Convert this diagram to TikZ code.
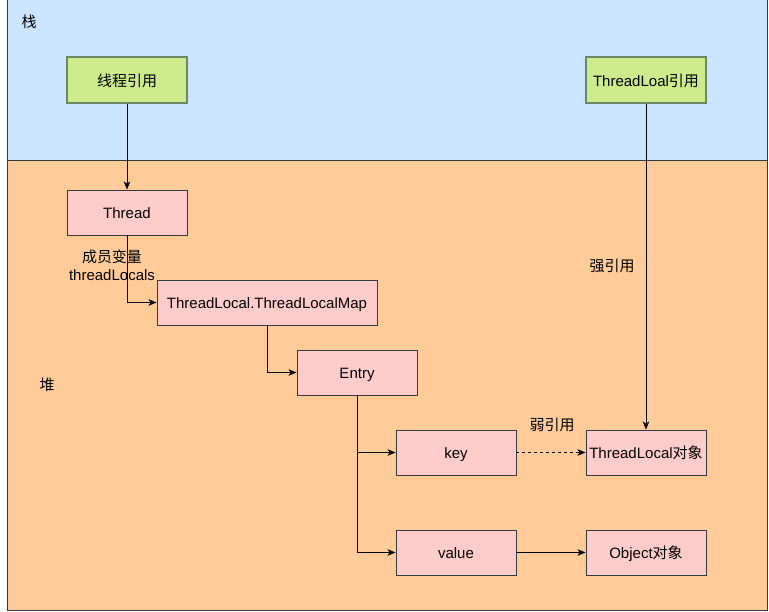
\documentclass[tikz,border=0pt]{standalone}
\usepackage{fontspec}
\setmainfont{Liberation Sans}
\newfontfamily\cjk{Noto Sans CJK SC}
\usetikzlibrary{arrows.meta}
\definecolor{stackfill}{HTML}{CCE5FF}
\definecolor{heapfill}{HTML}{FFCC99}
\definecolor{darkline}{HTML}{36393D}
\definecolor{greenfill}{HTML}{CDEB8B}
\definecolor{greenline}{HTML}{6D8764}
\definecolor{pinkfill}{HTML}{FFCCCC}
\begin{document}
\begin{tikzpicture}[x=1pt,y=-1pt,
  region/.style={draw=darkline,line width=0.9pt},
  refbox/.style={draw=greenline,fill=greenfill,line width=1.2pt,minimum width=120pt,minimum height=46pt,inner sep=0pt,text height=13.5pt,text depth=1pt,font=\fontsize{15}{18}\selectfont},
  objbox/.style={draw=darkline,fill=pinkfill,line width=0.9pt,minimum width=120pt,minimum height=45pt,inner sep=0pt,text height=13.5pt,text depth=1pt,font=\fontsize{15}{18}\selectfont},
  lbl/.style={font=\fontsize{15}{18}\selectfont,align=center,inner sep=0pt},
  conn/.style={draw=black,line width=0.9pt,-{Stealth[length=8pt,width=6.5pt,inset=2pt]}}
]
\useasboundingbox (0,0) rectangle (769,612);
\draw[region,fill=stackfill] (7,-2) rectangle (767,160);
\draw[region,fill=heapfill] (7,160) rectangle (767,610);
\node[lbl] (stacklbl) at (29,22) {\cjk 栈};
\node[lbl] (heaplbl) at (47,385) {\cjk 堆};

\node[refbox] (tref) at (127,80) {\cjk 线程引用};
\node[refbox] (tlref) at (646,80) {ThreadLoal{\cjk 引用}};
\node[objbox] (thread) at (127,212.5) {Thread};
\node[objbox,minimum width=220pt] (map) at (267,302.5) {ThreadLocal.ThreadLocalMap};
\node[objbox] (entry) at (357,372.5) {Entry};
\node[objbox] (key) at (456,452.5) {key};
\node[objbox] (tlobj) at (646,452.5) {ThreadLocal{\cjk 对象}};
\node[objbox] (value) at (456,552.5) {value};
\node[objbox] (obj) at (646,552.5) {Object{\cjk 对象}};

\draw[conn] (tref) -- (thread);
\draw[conn] (thread.south) |- (map.west);
\draw[conn] (map.south) |- (entry.west);
\draw[conn] (entry.south) |- (key.west);
\draw[conn] (entry.south) |- (value.west);
\draw[conn] (tlref) -- (tlobj);
\draw[conn,dashed,dash pattern=on 3pt off 3pt] (key) -- (tlobj);
\draw[conn] (value) -- (obj);

\node[lbl] (memberlbl) at (112,265) {{\cjk 成员变量}\\threadLocals};
\node[lbl] (stronglbl) at (612,266) {\cjk 强引用};
\node[lbl] (weaklbl) at (552,425) {\cjk 弱引用};
\end{tikzpicture}
\end{document}
